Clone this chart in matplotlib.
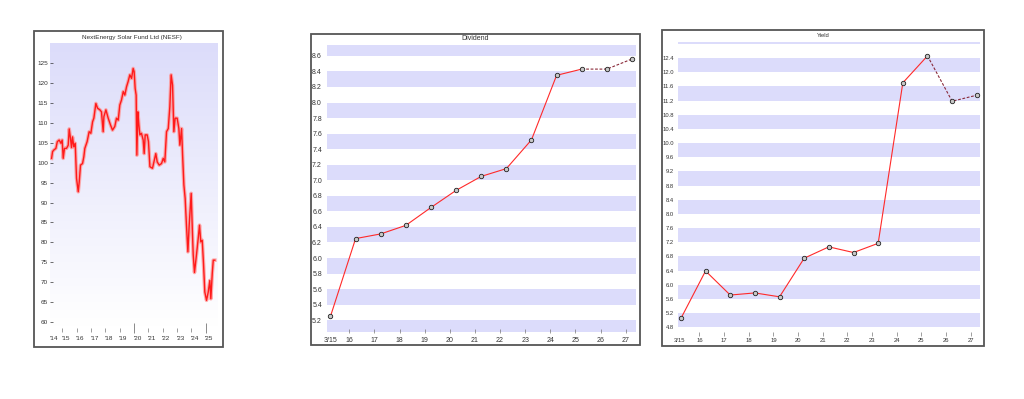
import numpy as np
import matplotlib
matplotlib.use("Agg")
import matplotlib.pyplot as plt
from matplotlib.patches import Rectangle

plt.rcParams['font.family'] = ['Liberation Sans', 'DejaVu Sans']

# ---------------- data ----------------
price_title = "NextEnergy Solar Fund Ltd (NESF)"
price_dates = [2014.26, 2014.33, 2014.42, 2014.56, 2014.66, 2014.79, 2014.91, 2015.00, 2015.07,
               2015.16, 2015.30, 2015.42, 2015.49, 2015.58, 2015.65, 2015.72, 2015.81, 2015.91,
               2016.00, 2016.12, 2016.19, 2016.28, 2016.42, 2016.51, 2016.58, 2016.74, 2016.88,
               2017.00, 2017.12, 2017.21, 2017.35, 2017.47, 2017.63, 2017.74, 2017.86, 2017.91,
               2018.05, 2018.21, 2018.37, 2018.51, 2018.67, 2018.79, 2018.91, 2019.02, 2019.14,
               2019.26, 2019.37, 2019.49, 2019.60, 2019.72, 2019.84, 2019.95, 2020.02, 2020.09,
               2020.16, 2020.21, 2020.28, 2020.35, 2020.42, 2020.53, 2020.65, 2020.72, 2020.79,
               2020.93, 2021.02, 2021.12, 2021.30, 2021.40, 2021.53, 2021.63, 2021.77, 2021.93,
               2022.05, 2022.16, 2022.28, 2022.40, 2022.51, 2022.60, 2022.70, 2022.79, 2022.88,
               2023.02, 2023.14, 2023.21, 2023.33, 2023.40, 2023.49, 2023.58, 2023.67, 2023.77,
               2023.86, 2024.00, 2024.07, 2024.14, 2024.23, 2024.37, 2024.49, 2024.58, 2024.67,
               2024.77, 2024.86, 2024.95, 2025.07, 2025.19, 2025.30, 2025.37, 2025.47, 2025.54,
               2025.65]
price_values = [101.1, 102.8, 103.2, 103.6, 105.3, 105.7, 104.9, 105.7, 101.1,
                103.6, 103.6, 104.4, 108.5, 106.1, 103.8, 106.5, 104.0, 104.9,
                96.1, 92.7, 95.2, 99.4, 99.8, 101.5, 103.6, 105.3, 107.8,
                107.4, 110.3, 111.2, 114.9, 113.7, 113.3, 112.8, 107.8, 111.6,
                113.3, 111.2, 109.5, 108.2, 109.1, 111.2, 110.7, 114.5, 115.8,
                117.9, 117.0, 119.1, 120.4, 122.1, 121.2, 123.7, 122.9, 118.7,
                117.0, 101.9, 112.8, 109.5, 107.0, 107.4, 105.7, 102.3, 107.0,
                107.0, 105.3, 99.0, 98.6, 100.2, 102.3, 100.2, 99.4, 99.8,
                101.1, 100.2, 107.8, 108.6, 114.1, 122.1, 119.5, 107.8, 111.2,
                111.2, 108.6, 104.4, 108.6, 101.9, 94.4, 91.0, 84.3, 77.6,
                84.3, 92.3, 84.3, 76.9, 72.4, 76.9, 81.0, 84.3, 80.1,
                80.5, 74.6, 67.5, 65.4, 67.5, 70.4, 65.8, 72.2, 75.5,
                75.5]
price_yticks = [60, 65, 70, 75, 80, 85, 90, 95, 100, 105, 110, 115, 120, 125]
price_year_ticks = list(range(2015, 2026))
price_year_labels = ["'14", "'15", "'16", "'17", "'18", "'19", "'20", "'21", "'22", "'23", "'24", "'25"]
price_label_dates = [2014.42, 2015.25, 2016.25, 2017.25, 2018.25, 2019.25, 2020.25,
                     2021.25, 2022.25, 2023.25, 2024.25, 2025.25]

fy_dates = [2015.25, 2016.25, 2017.25, 2018.25, 2019.25, 2020.25, 2021.25,
            2022.25, 2023.25, 2024.25, 2025.25, 2026.25, 2027.25]
fy_tick_years = list(range(2016, 2028))
fy_labels = ["3/15"] + [str(y % 100) for y in fy_tick_years]
fy_label_dates_div = [2015.25] + fy_tick_years
fy_label_dates_yld = [2015.2] + fy_tick_years
last_actual = 10  # index of last reported year; later points are forecasts

dividend_values = [5.25, 6.25, 6.31, 6.42, 6.65, 6.87, 7.05, 7.15, 7.52, 8.35, 8.43, 8.43, 8.56]
dividend_ticks = [5.2, 5.4, 5.6, 5.8, 6.0, 6.2, 6.4, 6.6, 6.8, 7.0, 7.2, 7.4, 7.6, 7.8, 8.0, 8.2, 8.4, 8.6]

yield_values = [5.05, 6.39, 5.71, 5.77, 5.66, 6.75, 7.07, 6.91, 7.17, 11.70, 12.46, 11.18, 11.35]
yield_ticks = [4.8, 5.2, 5.6, 6.0, 6.4, 6.8, 7.2, 7.6, 8.0, 8.4, 8.8, 9.2, 9.6, 10.0,
               10.4, 10.8, 11.2, 11.6, 12.0, 12.4]

# ---------------- styling ----------------
W, H = 1024, 399
BAND = '#dcdcfb'
TXT = '#333333'
FRAME = '#555555'
RED = '#ff2a2a'
DASH = '#8a2a3a'

fig = plt.figure(figsize=(W / 100, H / 100), dpi=100)
fig.patch.set_facecolor('white')


def add_axes_px(left, top, right, bottom):
    return fig.add_axes([left / W, 1 - bottom / H, (right - left) / W, (bottom - top) / H])


def frame_px(left, top, right, bottom):
    fig.add_artist(Rectangle((left / W, 1 - bottom / H), (right - left) / W, (bottom - top) / H,
                             transform=fig.transFigure, fill=False, edgecolor=FRAME, lw=1.3))


def title_px(x, y, s, size):
    fig.text(x / W, 1 - y / H, s, ha='center', va='center', fontsize=size, color=TXT)


# ---------- Panel 1: price ----------
frame_px(34, 31, 222.7, 346.7)
title_px(131.7, 38, price_title, 4.6)
ax1 = add_axes_px(50, 43, 218, 327)
xlim1 = (2014.15, 2025.87)
ylim1 = (58.7, 130.1)
grad = np.linspace(0, 1, 256).reshape(-1, 1)
top_c = np.array([220, 220, 250]) / 255.0
bot_c = np.array([255, 255, 255]) / 255.0
img = top_c[None, None, :] * (1 - grad[:, :, None]) + bot_c[None, None, :] * grad[:, :, None]
ax1.imshow(img, extent=[xlim1[0], xlim1[1], ylim1[0], ylim1[1]], aspect='auto', zorder=0,
           interpolation='bilinear', origin='upper')
ax1.plot(price_dates, price_values, color='#ff9090', lw=2.6, alpha=0.75, zorder=2,
         solid_joinstyle='round')
ax1.plot(price_dates, price_values, color='#ff1a1a', lw=1.0, zorder=3)
ax1.set_xlim(*xlim1)
ax1.set_ylim(*ylim1)
for s in ax1.spines.values():
    s.set_visible(False)
ax1.spines['bottom'].set_position(('outward', 1))
ax1.set_yticks(price_yticks)
ax1.tick_params(axis='y', direction='in', length=2, width=0.5, pad=1.5, labelsize=4.6,
                colors=TXT, left=True)
major_years = [2020, 2025]
ax1.set_xticks(major_years)
ax1.set_xticklabels([])
ax1.set_xticks([y for y in price_year_ticks if y not in major_years], minor=True)
ax1.tick_params(axis='x', which='major', direction='inout', length=7, width=0.6, colors='#777')
ax1.tick_params(axis='x', which='minor', direction='out', length=3, width=0.5, colors='#777')
sec = ax1.secondary_xaxis('bottom')
sec.set_xticks(price_label_dates)
sec.set_xticklabels(price_year_labels)
sec.tick_params(length=0, pad=6.5, labelsize=4.6, colors=TXT)
for s in sec.spines.values():
    s.set_visible(False)

# ---------- Panel 2: dividend ----------
frame_px(311, 34, 640, 345)
title_px(475, 39, "Dividend", 5.0)
ax2 = add_axes_px(326.7, 45, 636, 332.5)
ax2.set_xlim(2015.10, 2027.41)
ax2.set_ylim(5.042, 8.74)
for k in range(10):
    lo = 5.0 + 0.4 * k
    ax2.axhspan(lo, lo + 0.2, color=BAND, lw=0, zorder=0)
ax2.plot(fy_dates[:last_actual + 1], dividend_values[:last_actual + 1], color=RED, lw=0.8, zorder=2)
ax2.plot(fy_dates[last_actual:], dividend_values[last_actual:], color=DASH, lw=0.8,
         ls=(0, (2.5, 1.5)), zorder=2)
ax2.plot(fy_dates, dividend_values, ls='none', marker='o', ms=3.2, mfc='#c8c8c8',
         mec='#222', mew=0.6, zorder=3)
for s in ax2.spines.values():
    s.set_visible(False)
ax2.set_yticks(dividend_ticks)
ax2.set_yticklabels([f"{v:.1f}" for v in dividend_ticks])
ax2.tick_params(axis='y', length=0, pad=3.4, labelsize=5.0, colors=TXT)
ax2.set_xticks(fy_tick_years)
ax2.set_xticklabels([])
ax2.tick_params(axis='x', which='major', direction='in', length=3, width=0.5, colors='#777')
sec2 = ax2.secondary_xaxis('bottom')
sec2.set_xticks(fy_label_dates_div)
sec2.set_xticklabels(fy_labels)
sec2.tick_params(length=0, pad=3.0, labelsize=5.0, colors=TXT)
for s in sec2.spines.values():
    s.set_visible(False)

# ---------- Panel 3: yield ----------
frame_px(661.7, 30, 984.3, 346)
title_px(823, 35.7, "Yield", 4.2)
ax3 = add_axes_px(677.7, 41.7, 980, 328)
ax3.set_xlim(2015.12, 2027.38)
ax3.set_ylim(4.78, 12.86)
for k in range(11):
    lo = 4.8 + 0.8 * k
    ax3.axhspan(lo, lo + 0.4, color=BAND, lw=0, zorder=0)
ax3.plot(fy_dates[:last_actual + 1], yield_values[:last_actual + 1], color=RED, lw=0.8, zorder=2)
ax3.plot(fy_dates[last_actual:], yield_values[last_actual:], color=DASH, lw=0.8,
         ls=(0, (2.5, 1.5)), zorder=2)
ax3.plot(fy_dates, yield_values, ls='none', marker='o', ms=3.2, mfc='#c8c8c8',
         mec='#222', mew=0.6, zorder=3)
for s in ax3.spines.values():
    s.set_visible(False)
ax3.spines['bottom'].set_position(('outward', 3))
ax3.set_yticks(yield_ticks)
ax3.set_yticklabels([f"{v:.1f}" for v in yield_ticks])
ax3.tick_params(axis='y', length=0, pad=2.7, labelsize=4.2, colors=TXT)
ax3.set_xticks(fy_tick_years)
ax3.set_xticklabels([])
ax3.tick_params(axis='x', which='major', direction='out', length=3, width=0.5, colors='#777')
sec3 = ax3.secondary_xaxis('bottom')
sec3.set_xticks(fy_label_dates_yld)
sec3.set_xticklabels(fy_labels)
sec3.tick_params(length=0, pad=7.5, labelsize=4.2, colors=TXT)
for s in sec3.spines.values():
    s.set_visible(False)

fig.savefig("out.png", dpi=100, facecolor='white')
